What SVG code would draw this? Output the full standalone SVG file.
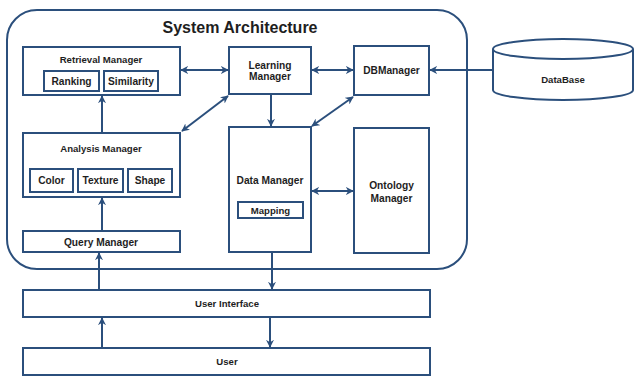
<svg xmlns="http://www.w3.org/2000/svg" width="635" height="376" viewBox="0 0 635 376">
<style>
.b{fill:#fff;stroke:#2b4f7c;stroke-width:2}
.c{fill:none;stroke:#2b4f7c;stroke-width:2}
text{font-family:"Liberation Sans",Arial,sans-serif;font-weight:bold;font-size:9.6px;fill:#1e1e1e;text-anchor:middle;dominant-baseline:central}
.t{font-size:16px}
.l{font-size:10.2px}
</style>
<defs>
<marker id="a" viewBox="0 0 10 10" refX="9" refY="5" markerWidth="4" markerHeight="4" orient="auto-start-reverse" markerUnits="strokeWidth">
<path d="M0,0 L10,5 L0,10 L3,5 Z" fill="#2b4f7c"/>
</marker>
</defs>
<rect width="635" height="376" fill="#fff"/>
<g id="system"><rect class="b" x="7" y="10" width="460" height="259" rx="30"/><text class="t" x="240" y="27">System Architecture</text></g>
<g id="retrieval"><rect class="b" x="23" y="47" width="157" height="48"/><text x="101" y="59">Retrieval Manager</text>
<rect class="b" x="44" y="71" width="55" height="20"/><text class="l" x="71.5" y="81">Ranking</text>
<rect class="b" x="104" y="71" width="54" height="20"/><text class="l" x="131" y="81">Similarity</text></g>
<g id="learning"><rect class="b" x="229" y="47" width="82" height="47"/><text class="l" x="270" y="65">Learning</text><text class="l" x="270" y="76">Manager</text></g>
<g id="dbmanager"><rect class="b" x="354" y="46" width="75" height="49"/><text class="l" x="391.5" y="70.5">DBManager</text></g>
<g id="database"><path class="b" d="M493,49 L493,90 A70,10 0 0 0 633,90 L633,49"/><ellipse class="b" cx="563" cy="49" rx="70" ry="10"/><text x="563" y="79">DataBase</text></g>
<g id="analysis"><rect class="b" x="23" y="133" width="157" height="64"/><text x="101" y="148">Analysis Manager</text>
<rect class="b" x="30" y="169" width="43" height="23"/><text class="l" x="51.5" y="180.5">Color</text>
<rect class="b" x="78" y="169" width="45" height="23"/><text class="l" x="100.5" y="180.5">Texture</text>
<rect class="b" x="128" y="169" width="44" height="23"/><text class="l" x="150" y="180.5">Shape</text></g>
<g id="datamanager"><rect class="b" x="229" y="127" width="82" height="125"/><text class="l" x="270" y="180">Data Manager</text>
<rect class="b" x="238" y="202" width="65" height="16"/><text x="270.5" y="210">Mapping</text></g>
<g id="ontology"><rect class="b" x="354" y="128" width="75" height="125"/><text class="l" x="391.5" y="185">Ontology</text><text class="l" x="391.5" y="198">Manager</text></g>
<g id="query"><rect class="b" x="23" y="231" width="157" height="21"/><text class="l" x="101" y="242">Query Manager</text></g>
<g id="ui"><rect class="b" x="23" y="290" width="407" height="27"/><text x="227" y="303.5">User Interface</text></g>
<g id="user"><rect class="b" x="23" y="348" width="407" height="27"/><text x="227" y="361.5">User</text></g>
<g id="connectors">
<line class="c" x1="181" y1="70" x2="228" y2="70" marker-start="url(#a)" marker-end="url(#a)"/>
<line class="c" x1="312" y1="70" x2="353" y2="70" marker-start="url(#a)" marker-end="url(#a)"/>
<line class="c" x1="493" y1="70" x2="430" y2="70" marker-end="url(#a)"/>
<line class="c" x1="102" y1="133" x2="102" y2="96" marker-end="url(#a)"/>
<line class="c" x1="182" y1="131" x2="228" y2="96" marker-start="url(#a)" marker-end="url(#a)"/>
<line class="c" x1="271" y1="94" x2="271" y2="126" marker-end="url(#a)"/>
<line class="c" x1="312" y1="126" x2="353" y2="97" marker-start="url(#a)" marker-end="url(#a)"/>
<line class="c" x1="312" y1="191" x2="353" y2="191" marker-start="url(#a)" marker-end="url(#a)"/>
<line class="c" x1="102" y1="231" x2="102" y2="198" marker-end="url(#a)"/>
<line class="c" x1="99" y1="290" x2="99" y2="253" marker-end="url(#a)"/>
<line class="c" x1="272" y1="252" x2="272" y2="289" marker-end="url(#a)"/>
<line class="c" x1="102" y1="348" x2="102" y2="318" marker-end="url(#a)"/>
<line class="c" x1="270" y1="317" x2="270" y2="347" marker-end="url(#a)"/>
</g>
</svg>
